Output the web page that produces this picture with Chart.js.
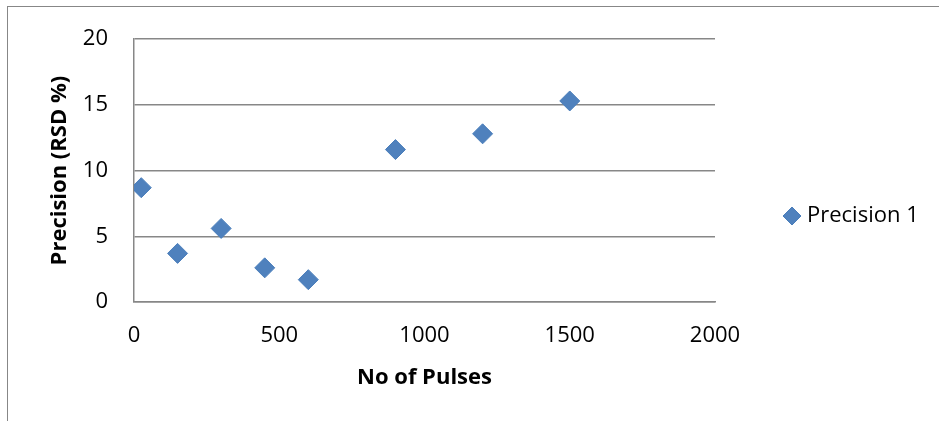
<!DOCTYPE html>
<html>
<head>
<meta charset="utf-8">
<script src="https://cdn.jsdelivr.net/npm/chart.js@4.4.1/dist/chart.umd.min.js"></script>
<style>
  html, body { margin: 0; padding: 0; background: #fff; overflow: hidden; }
  .wrap { position: relative; width: 939px; height: 421px; }
  .frame {
    position: absolute; left: 7px; top: 6px; right: -20px; bottom: -20px;
    border: 1.5px solid #878787;
  }
  canvas { position: absolute; left: 0; top: 0; }
</style>
</head>
<body>
<div class="wrap">
  <div class="frame"></div>
  <canvas id="precisionChart" width="939" height="421"></canvas>
</div>
<script>
// pulse counts and the measured RSD at each
const pulses = [25, 150, 300, 450, 600, 900, 1200, 1500];
const precision = [8.7, 3.7, 5.6, 2.6, 1.7, 11.6, 12.8, 15.3];
const seriesName = 'Precision 1';
const xTicks = [0, 500, 1000, 1500, 2000];
const yTicks = [0, 5, 10, 15, 20];

const font = "'Open Sans', 'Noto Sans', sans-serif";
const gridColor = '#878787';
const blue = '#4F81BD';

const points = pulses.map((p, i) => ({ x: p, y: precision[i] }));

// legend drawn by hand so it sits where the old sheet had it
const sideLegend = {
    id: 'sideLegend',
    afterDraw(chart) {
        const ctx = chart.ctx;
        const ds = chart.data.datasets[0];
        const cx = 792, cy = 216;
        ctx.save();
        ctx.fillStyle = ds.backgroundColor;
        ctx.strokeStyle = ds.borderColor;
        ctx.lineWidth = ds.borderWidth;
        Chart.helpers.drawPoint(ctx, { pointStyle: 'rectRot', radius: 9, rotation: 0, borderWidth: ds.borderWidth }, cx, cy);
        ctx.fillStyle = '#000';
        ctx.font = '22px ' + font;
        ctx.textBaseline = 'middle';
        ctx.textAlign = 'left';
        ctx.fillText(ds.label, cx + 15, cy);
        ctx.restore();
    }
};

new Chart(document.getElementById('precisionChart').getContext('2d'), {
    type: 'scatter',
    data: {
        datasets: [{
            label: seriesName,
            data: points,
            pointStyle: 'rectRot',
            pointRadius: 10,
            pointHoverRadius: 10,
            backgroundColor: blue,
            borderColor: '#4A7EBB',
            borderWidth: 1
        }]
    },
    options: {
        responsive: false,
        animation: false,
        layout: { padding: { top: 38, right: 224, left: 0, bottom: 0 } },
        plugins: {
            legend: { display: false },
            tooltip: { enabled: false }
        },
        scales: {
            x: {
                type: 'linear',
                min: 0,
                max: 2000,
                afterBuildTicks: scale => { scale.ticks = xTicks.map(v => ({ value: v })); },
                afterFit: scale => { scale.height = 119; },
                grid: { display: false, drawTicks: false },
                border: { display: true, color: gridColor, width: 1.5 },
                ticks: {
                    padding: 21,
                    color: '#000',
                    font: { family: font, size: 22 },
                    callback: v => String(v)
                },
                title: {
                    display: true,
                    text: 'No of Pulses',
                    color: '#000',
                    padding: { top: 0, bottom: 30 },
                    font: { family: font, size: 22, weight: 'bold' }
                }
            },
            y: {
                min: 0,
                max: 20,
                afterBuildTicks: scale => { scale.ticks = yTicks.map(v => ({ value: v })); },
                afterFit: scale => { scale.width = 134; },
                grid: { color: gridColor, lineWidth: 1.5, drawTicks: false },
                border: { display: true, color: gridColor, width: 1.5 },
                ticks: {
                    padding: 26,
                    color: '#000',
                    font: { family: font, size: 22 },
                    callback: v => String(v)
                },
                title: {
                    display: true,
                    text: 'Precision (RSD %)',
                    color: '#000',
                    padding: { top: 47, bottom: 0 },
                    font: { family: font, size: 22, weight: 'bold' }
                }
            }
        }
    },
    plugins: [sideLegend]
});
</script>
</body>
</html>
